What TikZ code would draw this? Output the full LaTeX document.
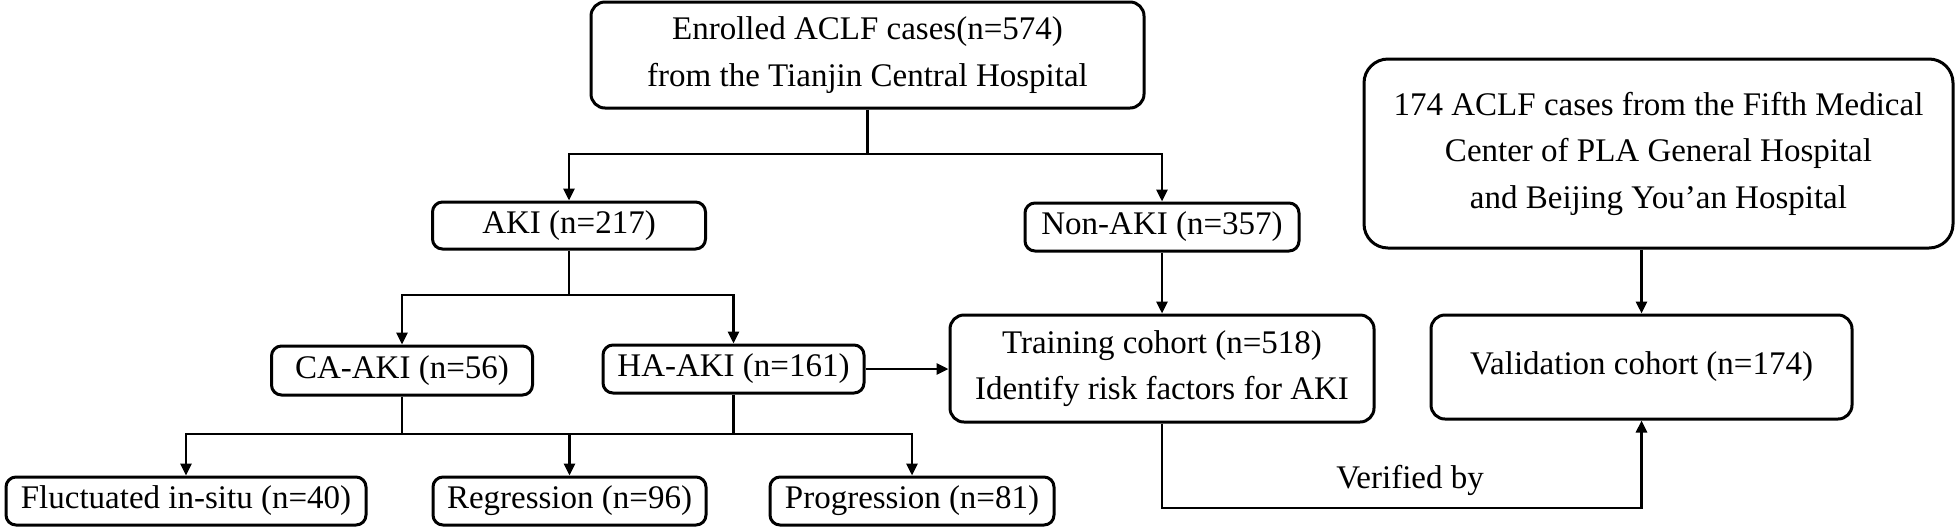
\documentclass[tikz,border=0pt]{standalone}
\usepackage{fontspec}
\setmainfont{Liberation Serif}
\usetikzlibrary{arrows.meta,calc}
\tikzset{
  box/.style={draw, line width=1.5pt, rounded corners=5pt, align=center, inner sep=0pt,
    font=\fontsize{16.5}{23.25}\selectfont},
  conn/.style={line width=1.4pt},
  arr/.style={conn, -{Triangle[length=6pt,width=5.5pt]}},
}
\begin{document}
\begin{tikzpicture}[x=0.5pt,y=-0.5pt]
\useasboundingbox (0,0) rectangle (1958,526);
% nodes
\node[box, minimum width=276.5pt, minimum height=53pt, rounded corners=7pt] (top) at (867.5,55)
  {Enrolled ACLF cases(n=574)\\from the Tianjin Central Hospital};
\node[box, minimum width=136.5pt, minimum height=23.5pt] (aki) at (569,225.5) {AKI (n=217)};
\node[box, minimum width=137pt, minimum height=24pt] (nonaki) at (1162,227) {Non-AKI (n=357)};
\node[box, minimum width=294.5pt, minimum height=94.5pt, rounded corners=12pt] (right) at (1658.5,153.5)
  {174 ACLF cases from the Fifth Medical\\Center of PLA General Hospital\\and Beijing You’an Hospital};
\node[box, minimum width=130.5pt, minimum height=24.5pt] (ca) at (402,370.5) {CA-AKI (n=56)};
\node[box, minimum width=130.5pt, minimum height=24pt] (ha) at (733.5,369) {HA-AKI (n=161)};
\node[box, minimum width=212pt, minimum height=53.5pt, rounded corners=7pt] (training) at (1162,368.5)
  {Training cohort (n=518)\\Identify risk factors for AKI};
\node[box, minimum width=210.5pt, minimum height=52pt, rounded corners=7pt] (validation) at (1641.5,367)
  {Validation cohort (n=174)};
\node[box, minimum width=180pt, minimum height=24pt] (fluct) at (186,501) {Fluctuated in-situ (n=40)};
\node[box, minimum width=136.5pt, minimum height=24pt] (regr) at (569.5,501) {Regression (n=96)};
\node[box, minimum width=142pt, minimum height=24pt] (prog) at (912,501) {Progression (n=81)};
\node[anchor=base, inner sep=0pt, font=\fontsize{16.5}{20}\selectfont] (verified) at (1410,488) {Verified by};
% junctions
\coordinate (h1) at (0,154);
\coordinate (h2) at (0,295);
\coordinate (h3) at (0,434);
\coordinate (hv) at (0,508);
% connectors
\draw[conn] (top.south) -- (top.south |- h1);
\draw[arr] (top.south |- h1) -| (aki.north);
\draw[arr] (top.south |- h1) -| (nonaki.north);
\draw[conn] (aki.south) -- (aki.south |- h2);
\draw[arr] (aki.south |- h2) -| (ca.north);
\draw[arr] (aki.south |- h2) -| (ha.north);
\draw[conn] (ca.south) -- (ca.south |- h3);
\draw[conn] (ha.south) -- (ha.south |- h3);
\draw[conn] (ca.south |- h3) -- (ha.south |- h3);
\draw[arr] (ca.south |- h3) -| (fluct.north);
\draw[arr] (ha.south |- h3) -| (prog.north);
\draw[arr] (regr.north |- h3) -- (regr.north);
\draw[arr] (ha.east) -- (ha.east -| training.west);
\draw[arr] (nonaki.south) -- (training.north);
\draw[arr] (right.south -| validation.north) -- (validation.north);
\draw[arr] (training.south) -- (training.south |- hv) -| (validation.south);
\end{tikzpicture}
\end{document}
